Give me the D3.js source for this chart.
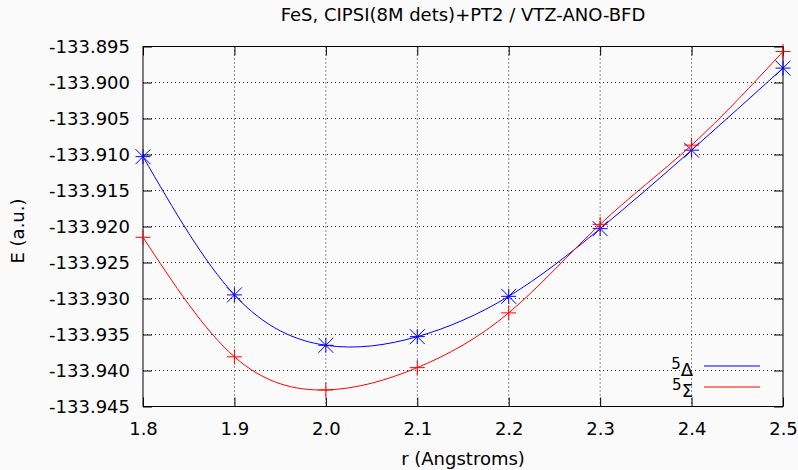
<!DOCTYPE html>
<html>
<head>
<meta charset="utf-8">
<script src="https://cdn.jsdelivr.net/npm/d3@7"></script>
<style>
  body { margin: 0; background: #fafafa; }
  svg { display: block; font-family: "DejaVu Sans", sans-serif; }
</style>
</head>
<body>
<div id="chart"></div>
<script>
// bond length (Angstrom)
const rValues = [1.8, 1.9, 2.0, 2.1, 2.2, 2.3, 2.4, 2.5];
// energies, a.u.
const delta5 = [-133.9103, -133.9295, -133.9365, -133.9353, -133.9297, -133.9203, -133.9094, -133.8980];
const sigma5 = [-133.9215, -133.9381, -133.9427, -133.9396, -133.9320, -133.9197, -133.9087, -133.8957];
const xTicks = [1.8, 1.9, 2.0, 2.1, 2.2, 2.3, 2.4, 2.5];
const yTicks = [-133.895, -133.900, -133.905, -133.910, -133.915, -133.920, -133.925,
                -133.930, -133.935, -133.940, -133.945];

var margin = { top: 46.5, right: 15, bottom: 63.5, left: 143 },
    W = 798, H = 470,
    width = W - margin.left - margin.right,
    height = H - margin.top - margin.bottom;

const fs = 18;

const svg = d3.select("#chart")
    .append("svg")
    .attr("width", W)
    .attr("height", H);

const g = svg.append("g")
    .attr("transform", `translate(${margin.left},${margin.top})`);

// scales
const x = d3.scaleLinear().domain([1.8, 2.5]).range([0, width]);
const y = d3.scaleLinear().domain([-133.945, -133.895]).range([height, 0]);

// grid (dotted)
g.append("g")
    .selectAll("line")
    .data(xTicks.slice(1, -1))
    .join("line")
    .attr("x1", d => x(d)).attr("x2", d => x(d))
    .attr("y1", 0).attr("y2", height)
    .attr("stroke", "#222")
    .attr("stroke-dasharray", "1,3");
g.append("g")
    .selectAll("line")
    .data(yTicks.slice(1, -1))
    .join("line")
    .attr("y1", d => y(d)).attr("y2", d => y(d))
    .attr("x1", 0).attr("x2", width)
    .attr("stroke", "#222")
    .attr("stroke-dasharray", "1,3");

// axes, ticks pointing inward, mirrored on top/right
const tickLen = 9;
const xAxis = d3.axisBottom(x).tickValues(xTicks).tickFormat(d3.format(".1f"))
    .tickSizeInner(-tickLen).tickSizeOuter(0).tickPadding(16);
const yAxis = d3.axisLeft(y).tickValues(yTicks)
    .tickSizeInner(-tickLen).tickSizeOuter(0).tickPadding(13);

g.append("g")
    .attr("transform", `translate(0,${height})`)
    .call(xAxis)
    .call(a => a.select(".domain").remove())
    .call(a => a.selectAll("text").attr("font-size", fs).attr("fill", "#000").attr("font-family", "DejaVu Sans"));
g.append("g")
    .call(yAxis)
    .call(a => a.select(".domain").remove())
    .call(a => a.selectAll("text").attr("font-size", fs).attr("fill", "#000").attr("font-family", "DejaVu Sans")
        .text(d => d3.format(".3f")(d).replace("\u2212", "-")));
g.append("g")
    .call(d3.axisTop(x).tickValues(xTicks).tickFormat("").tickSizeInner(-tickLen).tickSizeOuter(0))
    .call(a => a.select(".domain").remove());
g.append("g")
    .attr("transform", `translate(${width},0)`)
    .call(d3.axisRight(y).tickValues(yTicks).tickFormat("").tickSizeInner(-tickLen).tickSizeOuter(0))
    .call(a => a.select(".domain").remove());

// frame
g.append("rect")
    .attr("width", width).attr("height", height)
    .attr("fill", "none").attr("stroke", "#000");

// curves
const series = [
    { key: "delta", vals: delta5, color: "#0000ff", marker: "star" },
    { key: "sigma", vals: sigma5, color: "#ff0000", marker: "plus" }
];
const line = d3.line()
    .x(d => x(d[0])).y(d => y(d[1]))
    .curve(d3.curveNatural);

const s = 7.5;
series.forEach(function (ser) {
    const pts = rValues.map((r, i) => [r, ser.vals[i]]);
    g.append("path")
        .datum(pts)
        .attr("d", line)
        .attr("fill", "none")
        .attr("stroke", ser.color)
        .attr("stroke-width", 1);
    g.append("g")
        .selectAll("path")
        .data(pts)
        .join("path")
        .attr("d", function (d) {
            const cx = x(d[0]), cy = y(d[1]);
            let p = `M${cx - s},${cy}H${cx + s}M${cx},${cy - s}V${cy + s}`;
            if (ser.marker == "star") {
                p += `M${cx - s},${cy - s}L${cx + s},${cy + s}M${cx - s},${cy + s}L${cx + s},${cy - s}`;
            }
            return p;
        })
        .attr("stroke", ser.color)
        .attr("stroke-width", 1)
        .attr("fill", "none");
});

// legend
const legend = [
    { sym: "\u0394", color: "#0000ff", y: 366 },
    { sym: "\u03A3", color: "#ff0000", y: 387 }
];
legend.forEach(function (l) {
    const t = svg.append("text")
        .attr("x", 693).attr("y", l.y + 10)
        .attr("text-anchor", "end")
        .attr("font-size", fs)
        .attr("fill", "#000");
    t.append("tspan").attr("font-size", 15).attr("dy", -7).text("5");
    t.append("tspan").attr("dy", 7).text(l.sym);
    svg.append("line")
        .attr("x1", 704).attr("x2", 760)
        .attr("y1", l.y).attr("y2", l.y)
        .attr("stroke", l.color);
});

// labels
svg.append("text")
    .attr("x", margin.left + width / 2).attr("y", 21)
    .attr("text-anchor", "middle")
    .attr("font-size", fs)
    .text("FeS, CIPSI(8M dets)+PT2 / VTZ-ANO-BFD");
svg.append("text")
    .attr("x", margin.left + width / 2).attr("y", 465)
    .attr("text-anchor", "middle")
    .attr("font-size", fs)
    .text("r (Angstroms)");
svg.append("text")
    .attr("transform", `translate(24,231) rotate(-90)`)
    .attr("text-anchor", "middle")
    .attr("font-size", fs)
    .text("E (a.u.)");
</script>
</body>
</html>
